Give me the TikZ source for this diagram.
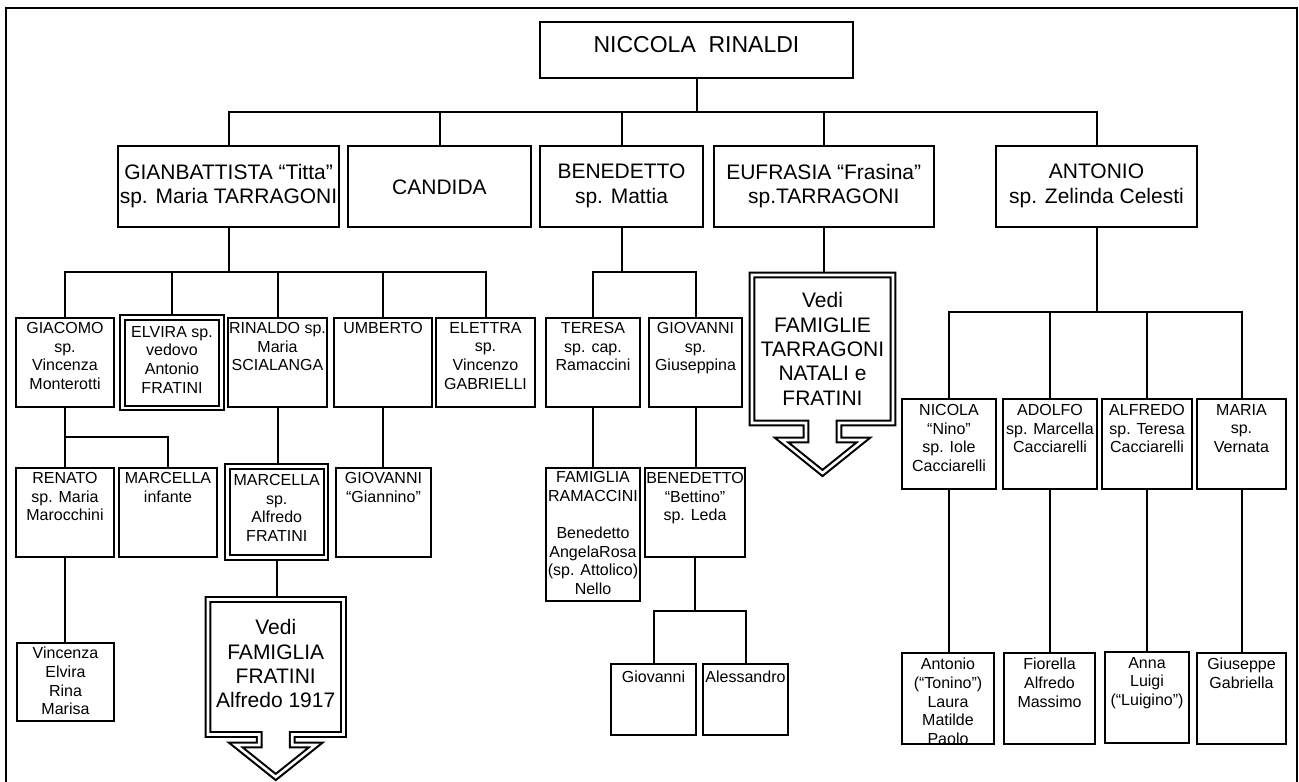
\documentclass[tikz,border=0pt]{standalone}
\usepackage{fontspec}
\setmainfont{Liberation Sans}
% rectangle given by its corners: [style]{name}{x1}{y1}{x2}{y2}
\newcommand\famrect[6][box]{\node[#1,minimum width={(#5)-(#3)},minimum height={(#6)-(#4)}] (#2) at ({((#3)+(#5))/2},{((#4)+(#6))/2}) {};}
% text block hung from its top centre: [style]{name}{x}{ytop}{text}
\newcommand\famtext[5][t16]{\node[#1,anchor=north] (#2) at (#3,#4) {#5};}
% double-lined arrow callout: cx, top, half width, body bottom, neck half width, head base, head half width, tip
\newcommand\callout[8]{%
  \draw[arrowline] ({#1-#3},#2) -- ({#1+#3},#2) -- ({#1+#3},#4) -- ({#1+#5},#4) -- ({#1+#5},#6)
    -- ({#1+#7},#6) -- (#1,#8) -- ({#1-#7},#6) -- ({#1-#5},#6) -- ({#1-#5},#4) -- ({#1-#3},#4) -- cycle;}
\begin{document}
\begin{tikzpicture}[x=1pt,y=-1pt,line width=2pt,line join=miter,
  box/.style={draw,rectangle,inner sep=0pt,outer sep=0pt},
  dbox/.style={draw,double=white,line width=2.1pt,double distance=2.2pt,rectangle,inner sep=0pt,outer sep=3.2pt},
  arrowline/.style={draw,double=white,line width=2.1pt,double distance=2.6pt},
  lbl/.style={inner sep=0pt,outer sep=0pt,align=center},
  t16/.style={lbl,font=\fontsize{16}{18.7}\selectfont},
  t21/.style={lbl,font=\fontsize{21}{24.4}\selectfont},
  t23/.style={lbl,font=\fontsize{23}{27}\selectfont}]
\useasboundingbox (0,0) rectangle (1299,782);
\clip (0,0) rectangle (1299,782);
\fill[white] (0,0) rectangle (1299,782);

% outer frame, open at the foot of the page
\draw[line width=2.2pt] (6,800) -- (6,8.3) -- (1297,8.3) -- (1297,800);

% ---------- generation 0 ----------
\famrect{root}{540}{21.7}{853}{77.7}
\famtext[t23]{roott}{696.5}{36.7}{NICCOLA\ \ RINALDI}

% ---------- generation 1 ----------
\famrect{gian}{118}{145.7}{339}{226.7}
\famrect{cand}{348}{145.7}{531}{226.7}
\famrect{bene}{540}{145.7}{703}{226.7}
\famrect{eufr}{714}{145.7}{933.5}{226.7}
\famrect{anto}{996}{145.7}{1197}{226.7}
\famtext[t21]{giant}{228.5}{164.1}{GIANBATTISTA “Titta”\\sp. Maria TARRAGONI}
\famtext[t21]{candt}{439.5}{179.4}{CANDIDA}
\famtext[t21]{benet}{621.5}{164.1}{BENEDETTO\\sp. Mattia}
\famtext[t21]{eufrt}{823.75}{164.1}{EUFRASIA “Frasina”\\sp.TARRAGONI}
\famtext[t21]{antot}{1096.5}{164.1}{ANTONIO\\sp. Zelinda Celesti}
\coordinate (bus0) at (696.5,112.3);
\draw (root.south) -- (root.south |- bus0);
\draw (gian.north) |- (anto.north |- bus0) -- (anto.north);
\draw (cand.north) -- (cand.north |- bus0);
\draw (bene.north) -- (bene.north |- bus0);
\draw (eufr.north) -- (eufr.north |- bus0);

% ---------- children of Gianbattista and Benedetto ----------
\famrect{giac}{16}{318}{114}{407}
\famrect[dbox]{elvi}{122.5}{317.5}{221.5}{408}
\famrect{rina}{228}{318}{327}{407}
\famrect{umbe}{334}{318}{432}{407}
\famrect{elet}{436}{318}{535}{407}
\famrect{tere}{546}{318}{640}{407}
\famrect{giov}{649}{318}{742}{407}
\famtext{giact}{65}{322.2}{GIACOMO\\sp.\\Vincenza\\Monterotti}
\famtext{elvit}{172}{326.2}{ELVIRA sp.\\vedovo\\Antonio\\FRATINI}
\famtext{rinat}{277.5}{322.2}{RINALDO sp.\\Maria\\SCIALANGA}
\famtext{umbet}{383}{322.2}{UMBERTO}
\famtext{elett}{485.5}{322.2}{ELETTRA\\sp.\\Vincenzo\\GABRIELLI}
\famtext{teret}{593}{322.2}{TERESA\\sp. cap.\\Ramaccini}
\famtext{giovt}{695.5}{322.2}{GIOVANNI\\sp.\\Giuseppina}
\coordinate (bus1) at (229,272);
\draw (gian.south) -- (gian.south |- bus1);
\draw (giac.north) |- (elet.north |- bus1) -- (elet.north);
\draw (elvi.north) -- (elvi.north |- bus1);
\draw (rina.north) -- (rina.north |- bus1);
\draw (umbe.north) -- (umbe.north |- bus1);
\draw (bene.south) -- (bene.south |- bus1);
\draw (tere.north) |- (giov.north |- bus1) -- (giov.north);

% ---------- Eufrasia: see other families ----------
\coordinate (eutop) at (822.5,272);
\draw (eufr.south) -- (eufr.south |- eutop);
\callout{822.5}{275}{70.5}{423}{16.5}{440}{41}{473}
\famtext[t21]{eunote}{822.5}{292.4}{Vedi\\FAMIGLIE\\TARRAGONI\\NATALI e\\FRATINI}

% ---------- children of Antonio ----------
\famrect{nico}{902}{399}{996}{489}
\famrect{adol}{1003}{399}{1097}{489}
\famrect{alfr}{1102}{399}{1192}{489}
\famrect{mari}{1197}{399}{1286}{489}
\famtext{nicot}{949}{404.2}{NICOLA\\“Nino”\\sp. Iole\\Cacciarelli}
\famtext{adolt}{1050}{404.2}{ADOLFO\\sp. Marcella\\Cacciarelli}
\famtext{alfrt}{1147}{404.2}{ALFREDO\\sp. Teresa\\Cacciarelli}
\famtext{marit}{1241.5}{404.2}{MARIA\\sp.\\Vernata}
\coordinate (bus2) at (1096.5,312);
\draw (anto.south) -- (anto.south |- bus2);
\draw (nico.north) |- (mari.north |- bus2) -- (mari.north);
\draw (adol.north) -- (adol.north |- bus2);
\draw (alfr.north) -- (alfr.north |- bus2);

% ---------- grandchildren ----------
\famrect{rena}{16}{468}{114}{557}
\famrect{mare}{119}{468}{217}{557}
\famrect[dbox]{msp}{227.5}{466.5}{326}{557.5}
\famrect{ginn}{336}{468}{431}{557}
\famrect{rama}{546}{468}{640}{600.7}
\famrect{bett}{645}{468}{745}{557}
\famtext{renat}{65}{472.2}{RENATO\\sp. Maria\\Marocchini}
\famtext{maret}{168}{472.2}{MARCELLA\\infante}
\famtext{mspt}{276.75}{474.2}{MARCELLA\\sp.\\Alfredo\\FRATINI}
\famtext{ginnt}{383.5}{472.2}{GIOVANNI\\“Giannino”}
\famtext{ramat}{593}{471.2}{FAMIGLIA\\RAMACCINI\\[18.7pt]Benedetto\\AngelaRosa\\(sp. Attolico)\\Nello}
\famtext{bettt}{695}{472.2}{BENEDETTO\\“Bettino”\\sp. Leda}
\coordinate (bus3) at (65,437);
\draw (giac.south) -- (giac.south |- bus3);
\draw (rena.north) |- (mare.north |- bus3) -- (mare.north);
\draw (rina.south) -- (rina.south |- msp.north);
\draw (umbe.south) -- (umbe.south |- ginn.north);
\draw (tere.south) -- (tere.south |- rama.north);
\draw (giov.south) -- (giov.south |- bett.north);

% ---------- Marcella: see Fratini family ----------
\coordinate (fatop) at (275.75,597);
\draw (msp.south) -- (msp.south |- fatop);
\callout{275.75}{599.5}{67.75}{734.5}{16.5}{745}{40}{777}
\famtext[t21]{fanote}{275.75}{619.4}{Vedi\\FAMIGLIA\\FRATINI\\Alfredo 1917}

% ---------- further descendants ----------
\famrect{vinc}{17}{643}{114}{721}
\famrect{gbet}{611}{664}{696}{735}
\famrect{ales}{703}{664}{788}{735}
\famrect{toni}{902}{653}{994}{744}
\famrect{fior}{1004}{653}{1095}{744}
\famrect{anna}{1105}{652}{1189}{743}
\famrect{gius}{1197}{653}{1286}{744}
\famtext{vinct}{65.5}{647.2}{Vincenza\\Elvira\\Rina\\Marisa}
\famtext{gbett}{653.5}{671.2}{Giovanni}
\famtext{alest}{745.5}{671.2}{Alessandro}
\famtext{tonit}{948}{658.2}{Antonio\\(“Tonino”)\\Laura\\Matilde\\Paolo}
\famtext{fiort}{1049.5}{658.2}{Fiorella\\Alfredo\\Massimo}
\famtext{annat}{1147}{657.2}{Anna\\Luigi\\(“Luigino”)}
\famtext{giust}{1241.5}{658.2}{Giuseppe\\Gabriella}
\draw (rena.south) -- (rena.south |- vinc.north);
\coordinate (bus4) at (695,611);
\draw (bett.south) -- (bett.south |- bus4);
\draw (gbet.north) |- (ales.north |- bus4) -- (ales.north);
\draw (nico.south) -- (nico.south |- toni.north);
\draw (adol.south) -- (adol.south |- fior.north);
\draw (alfr.south) -- (alfr.south |- anna.north);
\draw (mari.south) -- (mari.south |- gius.north);
\end{tikzpicture}
\end{document}
